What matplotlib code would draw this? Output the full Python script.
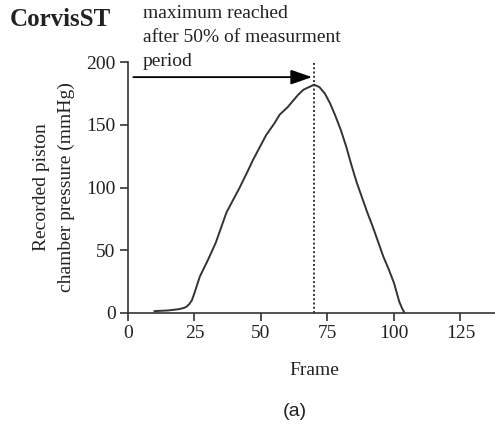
import matplotlib
matplotlib.use("Agg")
import matplotlib.pyplot as plt

# Werte
frame = [10, 15, 19, 21, 22, 23, 24, 25, 27, 30, 33, 35, 37, 40, 42, 45, 47,
         50, 52, 55, 57, 60, 62, 64, 66, 68, 70, 72, 74, 76, 78, 80, 82, 84,
         86, 88, 90, 92, 94, 96, 98, 100, 102, 103, 104]
pressure = [1.5, 2, 3, 4, 5, 7, 10, 16, 29, 42, 56, 68, 80, 92, 100, 113, 122,
            134, 142, 151, 158, 164, 169, 174, 178, 180, 182, 180, 175, 167,
            157, 146, 133, 118, 104, 92, 80, 69, 57, 45, 35, 24, 9, 4, 0]
peak_frame = 70
arrow_start = 2
arrow_y = 188

xticks = [0, 25, 50, 75, 100, 125]
yticks = [0, 50, 100, 150, 200]

serif = "Liberation Serif"

fig = plt.figure(figsize=(4.95, 4.26), dpi=100)
ax = fig.add_axes([0.2586, 0.2653, 0.7414, 0.589])

ax.plot(frame, pressure, color="#333333", lw=1.4)
ax.plot([peak_frame, peak_frame], [0, 201], color="#333333", lw=1.4,
        linestyle=(0, (1, 1.2)))
ax.annotate("", xy=(peak_frame - 0.8, arrow_y), xytext=(arrow_start, arrow_y),
            arrowprops=dict(arrowstyle="-|>,head_length=1.3,head_width=0.45",
                            color="black", lw=1.3, shrinkA=0, shrinkB=0),
            annotation_clip=False)

ax.set_xlim(0, 138)
ax.set_ylim(0, 200)
ax.set_xticks(xticks)
ax.set_yticks(yticks)
for s in ["top", "right"]:
    ax.spines[s].set_visible(False)
for s in ["left", "bottom"]:
    ax.spines[s].set_linewidth(1.2)
    ax.spines[s].set_color("#333333")
ax.tick_params(direction="out", length=6, width=1.2, color="#333333",
               labelsize=14, labelcolor="#222222", pad=3)
for lab in ax.get_xticklabels() + ax.get_yticklabels():
    lab.set_family(serif)

ax.set_xlabel("Frame", family=serif, fontsize=14, color="#222222")
ax.xaxis.set_label_coords(0.508, -0.195)
ax.xaxis.label.set_va("top")
ax.set_ylabel("Recorded piston\nchamber pressure (mmHg)", family=serif,
              fontsize=14, color="#222222", labelpad=8, linespacing=1.6)

fig.text(0.02, 0.955, "CorvisST", family=serif, fontsize=18, weight="bold",
         color="#222222", va="center", ha="left")
fig.text(0.289, 0.988, "maximum reached\nafter 50% of measurment\nperiod",
         family=serif, fontsize=14, color="#222222", va="top", ha="left",
         linespacing=1.55)
fig.text(0.596, 0.035, "(a)", family="Liberation Sans", fontsize=14,
         color="#222222", ha="center", va="center")

fig.savefig("out.png", dpi=100)
